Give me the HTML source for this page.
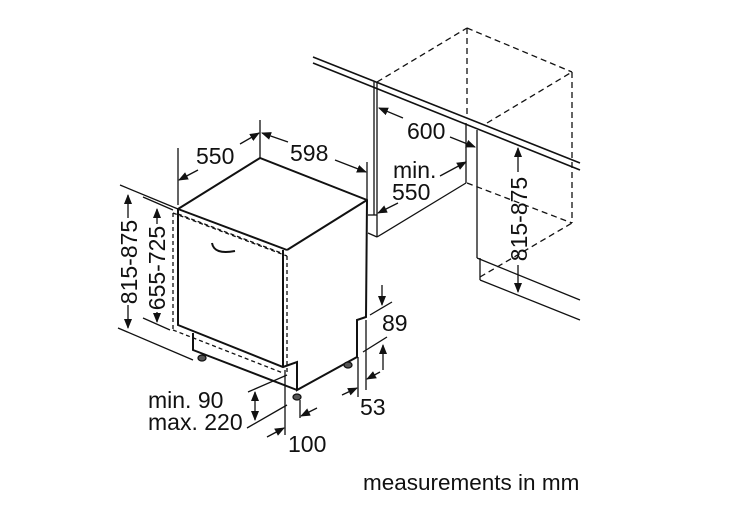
<!DOCTYPE html>
<html><head><meta charset="utf-8"><style>
html,body{margin:0;padding:0;background:#fff;}
svg{display:block;}
text{font-family:"Liberation Sans",Arial,sans-serif;fill:#111;}
</style></head><body>
<svg width="750" height="527" viewBox="0 0 750 527" xmlns="http://www.w3.org/2000/svg">
<defs>
<marker id="a" markerWidth="10" markerHeight="8" refX="9" refY="4" orient="auto" markerUnits="userSpaceOnUse">
<path d="M0,0 L10,4 L0,8 z" fill="#111"/></marker>
</defs>
<g stroke="#111" fill="none" stroke-width="1.3">
<!-- counter top -->
<line x1="313" y1="57" x2="580" y2="163" stroke-width="1.6"/>
<line x1="313" y1="63" x2="580" y2="170" stroke-width="1.6"/>
<!-- left cabinet panel -->
<line x1="374" y1="82" x2="374" y2="215"/>
<line x1="377" y1="83" x2="377" y2="237"/>
<line x1="368" y1="215" x2="377" y2="215"/>
<line x1="368" y1="233" x2="377" y2="237"/>
<line x1="377" y1="237" x2="466" y2="183"/>
<!-- right cabinet -->
<line x1="466" y1="123" x2="466" y2="183"/>
<line x1="477" y1="130" x2="477" y2="258"/>
<line x1="477" y1="258" x2="580" y2="300"/>
<line x1="480" y1="280" x2="580" y2="320"/>
<line x1="480" y1="258" x2="480" y2="280"/>
<!-- dashed box -->
<g stroke-dasharray="6,4">
<line x1="377" y1="82" x2="467" y2="28"/>
<line x1="467" y1="28" x2="572" y2="72"/>
<line x1="572" y1="72" x2="572" y2="223"/>
<line x1="467" y1="28" x2="467" y2="118"/>
<line x1="487" y1="123" x2="572" y2="72"/>
<line x1="467" y1="183" x2="572" y2="223"/>
<line x1="480" y1="277" x2="572" y2="223"/>
</g>
<!-- dishwasher -->
<g stroke-width="2">
<polyline points="178,209 260,158 367,200 366,317 357,320 357,357 297,390 297,362 283,367 178,325 178,209"/>
<line x1="178" y1="209" x2="287" y2="250"/>
<line x1="287" y1="250" x2="367" y2="200"/>
<line x1="283" y1="250" x2="283" y2="367"/>
<polyline points="193,333 193,350 297,390"/>
<path d="M212,243 Q214,255 235,251"/>
</g>
<g stroke-dasharray="4,3">
<line x1="173" y1="213" x2="173" y2="330"/>
<line x1="173" y1="330" x2="283" y2="373"/>
<line x1="173" y1="213" x2="287" y2="256"/>
<line x1="287" y1="256" x2="287" y2="373"/>
<line x1="178" y1="214" x2="284" y2="254"/>
</g>
<!-- feet -->
<g fill="#555"><ellipse cx="202" cy="358" rx="4" ry="3"/><ellipse cx="297" cy="397" rx="4" ry="3"/><ellipse cx="348" cy="365" rx="4" ry="3"/></g>
<!-- dims left -->
<line x1="120" y1="185" x2="178" y2="209"/>
<line x1="118" y1="328" x2="193" y2="360"/>
<line x1="143" y1="197" x2="173" y2="210"/>
<line x1="143" y1="318" x2="170" y2="330"/>
<line x1="128" y1="218" x2="128" y2="195" marker-end="url(#a)"/>
<line x1="128" y1="305" x2="128" y2="328" marker-end="url(#a)"/>
<line x1="157" y1="224" x2="157" y2="209" marker-end="url(#a)"/>
<line x1="157" y1="312" x2="157" y2="322" marker-end="url(#a)"/>
<!-- 550 / 598 -->
<line x1="178" y1="148" x2="178" y2="205"/>
<line x1="260" y1="120" x2="260" y2="158"/>
<line x1="367" y1="162" x2="367" y2="200"/>
<line x1="198" y1="170" x2="179" y2="180" marker-end="url(#a)"/>
<line x1="240" y1="144" x2="259" y2="133" marker-end="url(#a)"/>
<line x1="288" y1="142" x2="262" y2="133" marker-end="url(#a)"/>
<line x1="335" y1="160" x2="366" y2="172" marker-end="url(#a)"/>
<!-- 600 / min 550 -->
<line x1="403" y1="118" x2="379" y2="108" marker-end="url(#a)"/>
<line x1="450" y1="137" x2="475" y2="147" marker-end="url(#a)"/>
<line x1="440" y1="176" x2="466" y2="162" marker-end="url(#a)"/>
<line x1="398" y1="203" x2="378" y2="213" marker-end="url(#a)"/>
<!-- 815-875 right -->
<line x1="518" y1="172" x2="518" y2="148" marker-end="url(#a)"/>
<line x1="518" y1="265" x2="518" y2="292" marker-end="url(#a)"/>
<!-- 89 -->
<line x1="382" y1="285" x2="382" y2="305" marker-end="url(#a)"/>
<line x1="370" y1="315" x2="392" y2="302"/>
<line x1="363" y1="352" x2="387" y2="337"/>
<line x1="383" y1="370" x2="383" y2="345" marker-end="url(#a)"/>
<!-- 53 -->
<line x1="358" y1="357" x2="358" y2="397"/>
<line x1="366" y1="320" x2="366" y2="390"/>
<line x1="380" y1="372" x2="367" y2="379" marker-end="url(#a)"/>
<line x1="342" y1="395" x2="357" y2="388" marker-end="url(#a)"/>
<!-- min90 -->
<line x1="248" y1="392" x2="287" y2="375"/>
<line x1="247" y1="428" x2="287" y2="405"/>
<line x1="255" y1="405" x2="255" y2="392" marker-end="url(#a)"/>
<line x1="255" y1="405" x2="255" y2="420" marker-end="url(#a)"/>
<!-- 100 -->
<line x1="285" y1="370" x2="285" y2="435"/>
<line x1="300" y1="400" x2="300" y2="418"/>
<line x1="317" y1="408" x2="301" y2="416" marker-end="url(#a)"/>
<line x1="267" y1="437" x2="284" y2="428" marker-end="url(#a)"/>
</g>
<g font-size="23">
<text x="196" y="164">550</text>
<text x="290" y="161">598</text>
<text x="407" y="139">600</text>
<text x="393" y="178">min.</text>
<text x="392" y="200">550</text>
<text x="382" y="331">89</text>
<text x="360" y="415">53</text>
<text x="148" y="408">min. 90</text>
<text x="148" y="430">max. 220</text>
<text x="288" y="452">100</text>
<text transform="translate(137,262) rotate(-90)" text-anchor="middle">815-875</text>
<text transform="translate(165,268) rotate(-90)" text-anchor="middle">655-725</text>
<text transform="translate(527,219) rotate(-90)" text-anchor="middle">815-875</text>
<text x="363" y="490" font-size="22.5">measurements in mm</text>
</g>
</svg>
</body></html>
